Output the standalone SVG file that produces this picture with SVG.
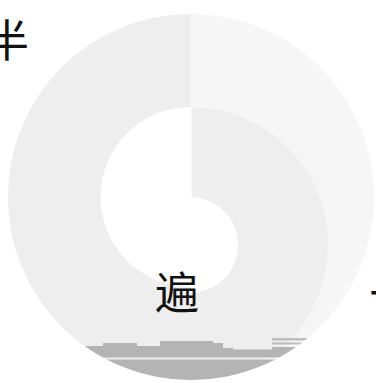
<svg xmlns="http://www.w3.org/2000/svg" width="376" height="383" viewBox="0 0 376 383">
<style>
  .t{font-family:"Noto Sans CJK SC","Noto Sans CJK JP",sans-serif;font-size:44px;fill:#111}
  .g{fill:#b4b4b4}
  .gl{fill:#bebebe}
  .ring{fill:#eeeeee}
  .hole{fill:#ffffff}
</style>
<defs>
  <clipPath id="disc"><circle cx="191" cy="197" r="183"/></clipPath>
  <clipPath id="rightHalf"><rect x="190.5" y="0" width="200" height="383"/></clipPath>
  <clipPath id="leftHalf"><rect x="0" y="0" width="191.5" height="383"/></clipPath>
</defs>
<rect width="376" height="383" fill="#ffffff"/>
<g id="donut" clip-path="url(#disc)">
  <rect id="outer-right" x="0" y="0" width="376" height="383" fill="#f6f6f6"/>
  <rect id="outer-left" class="ring" x="0" y="0" width="190.5" height="383"/>
  <g id="inner-right" clip-path="url(#rightHalf)">
    <circle class="ring" cx="190" cy="245" r="138"/>
    <circle class="hole" cx="190" cy="245" r="48"/>
  </g>
  <g id="hole-left" clip-path="url(#leftHalf)">
    <circle class="hole" cx="190.5" cy="197" r="90"/>
  </g>
  <g id="bottom-bars">
    <path class="g" d="M60,346 H103 V343 H137 V346 H160 V341 H213 V343 H223 V348 H233 V349.5 H272 V347 H330 V357.5 H60 Z"/>
    <rect class="g" x="0" y="359.5" width="376" height="30"/>
    <rect class="gl" x="272" y="338" width="50" height="2.5"/>
    <rect class="gl" x="272" y="342.5" width="50" height="2"/>
  </g>
</g>
<g id="labels">
  <text class="t" x="7" y="57" text-anchor="middle">半</text>
  <text class="t" x="177" y="309" text-anchor="middle">遍</text>
  <text class="t" x="369" y="312">十</text>
</g>
</svg>
